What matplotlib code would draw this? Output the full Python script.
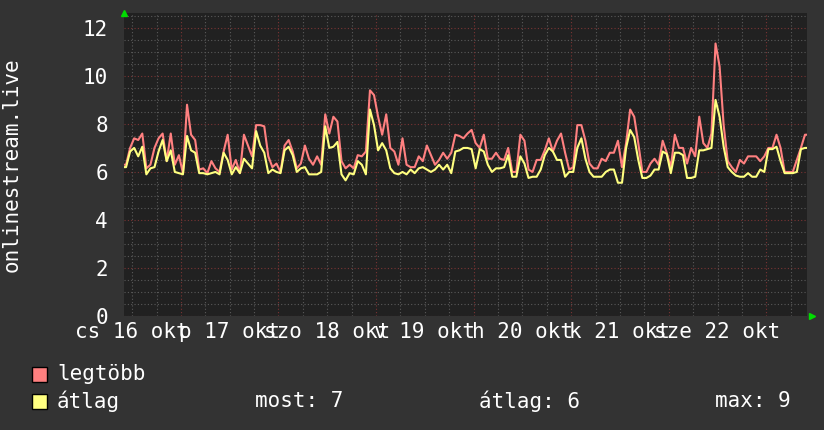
import matplotlib
matplotlib.use("Agg")
import matplotlib.pyplot as plt
from matplotlib.patches import Rectangle
import numpy as np

# ---- data (hourly samples, starting 16 Oct 10:00) ----
legtobb = [6.3, 7.0, 7.4, 7.33, 7.6, 6.15, 6.3, 7.0, 7.4, 7.6,
           6.45, 7.6, 6.3, 6.7, 5.95, 8.8, 7.55, 7.33, 6.1, 6.15,
           5.95, 6.45, 6.15, 6.0, 6.85, 7.55, 6.1, 6.5, 5.95, 7.55,
           7.1, 6.65, 7.95, 7.95, 7.9, 6.65, 6.2, 6.35, 6.0, 7.1,
           7.33, 6.85, 6.15, 6.35, 7.1, 6.55, 6.3, 6.65, 6.3, 8.4,
           7.6, 8.3, 8.1, 6.45, 6.15, 6.3, 6.15, 6.7, 6.65, 6.85,
           9.4, 9.2, 8.3, 7.55, 8.4, 7.0, 6.85, 6.3, 7.4, 6.3,
           6.2, 6.2, 6.65, 6.45, 7.1, 6.7, 6.3, 6.5, 6.8, 6.55,
           6.8, 7.55, 7.5, 7.4, 7.6, 7.75, 7.2, 7.0, 7.55, 6.55,
           6.55, 6.8, 6.55, 6.5, 7.0, 6.0, 6.0, 7.55, 7.3, 6.1,
           6.0, 6.5, 6.5, 6.9, 7.4, 6.85, 7.3, 7.6, 6.8, 6.1,
           6.2, 7.95, 7.95, 7.3, 6.35, 6.15, 6.15, 6.55, 6.45, 6.8,
           6.8, 7.3, 6.2, 7.2, 8.6, 8.3, 7.2, 6.0, 6.0, 6.35,
           6.55, 6.3, 7.3, 6.8, 6.2, 7.55, 7.0, 7.0, 6.35, 7.0,
           6.65, 8.3, 7.2, 7.0, 7.6, 11.35, 10.4, 7.95, 6.45, 6.2,
           6.0, 6.5, 6.35, 6.65, 6.65, 6.65, 6.45, 6.65, 7.0, 7.0,
           7.55, 7.0, 6.0, 6.0, 6.0, 6.5, 7.0, 7.55]
atlag = [6.2, 6.85, 7.0, 6.65, 7.05, 5.9, 6.15, 6.2, 6.85, 7.33,
         6.45, 6.9, 6.0, 5.95, 5.9, 7.5, 6.9, 6.8, 5.95, 5.95,
         5.9, 5.95, 6.0, 5.9, 6.8, 6.5, 5.9, 6.2, 5.95, 6.55,
         6.35, 6.15, 7.7, 7.1, 6.8, 5.95, 6.1, 6.0, 5.95, 6.9,
         7.05, 6.7, 6.0, 6.15, 6.2, 5.9, 5.9, 5.9, 6.0, 7.9,
         7.0, 7.05, 7.25, 5.9, 5.65, 5.95, 5.9, 6.45, 6.3, 5.9,
         8.6, 7.95, 6.9, 7.2, 6.9, 6.15, 5.95, 5.9, 6.0, 5.9,
         6.1, 5.95, 6.15, 6.2, 6.1, 6.0, 6.1, 6.3, 6.1, 6.3,
         5.95, 6.85, 6.9, 7.0, 7.0, 6.95, 6.15, 6.95, 6.85, 6.3,
         6.0, 6.15, 6.15, 6.2, 6.7, 5.8, 5.8, 6.65, 6.35, 5.75,
         5.8, 5.8, 6.1, 6.7, 7.0, 6.85, 6.5, 6.5, 5.8, 6.0,
         6.0, 7.0, 7.4, 6.55, 6.0, 5.8, 5.8, 5.8, 6.0, 6.1,
         6.1, 5.55, 5.55, 7.0, 7.75, 7.45, 6.5, 5.75, 5.75, 5.85,
         6.1, 6.1, 6.85, 6.75, 5.95, 6.8, 6.8, 6.7, 5.75, 5.75,
         5.8, 6.9, 6.9, 6.95, 7.0, 9.0, 8.3, 7.05, 6.2, 6.0,
         5.85, 5.8, 5.8, 5.95, 5.8, 5.8, 6.1, 6.0, 6.95, 6.95,
         7.05, 6.45, 5.95, 5.95, 5.95, 6.0, 6.95, 7.0]
day_labels = ["cs 16 okt", "p 17 okt", "szo 18 okt", "v 19 okt",
              "h 20 okt", "k 21 okt", "sze 22 okt"]
y_ticks = [0, 2, 4, 6, 8, 10, 12]
y_label = "onlinestream.live"
legend_names = ["legtöbb", "átlag"]
stats = ["most: 7", "átlag: 6", "max: 9"]

# ---- style ----
BG = "#333333"
CANVAS = "#212121"
C_MAX = "#ff8080"
C_AVG = "#ffff80"
GRID = "#5a5a5a"
MGRID = "#7a3434"
FONT = "DejaVu Sans Mono"
FS = 15

W, H = 824, 430
fig = plt.figure(figsize=(W / 100, H / 100), dpi=100, facecolor=BG)
L, R, B, T = 124, 807, 316, 13
ax = fig.add_axes([L / W, 1 - B / H, (R - L) / W, (B - T) / H])
ax.set_facecolor(CANVAS)

n = len(legtobb)
hours = np.concatenate([[0.0], np.arange(n) + 0.5, [float(n)]])
vmax = np.concatenate([[legtobb[0]], legtobb, [legtobb[-1]]])
vavg = np.concatenate([[atlag[0]], atlag, [atlag[-1]]])

ax.set_xlim(0, n)
ax.set_ylim(0, 12.62)

# grid
dot = (0, (1, 2))
for y in np.arange(0.5, 12.6, 0.5):
    major = abs(y / 2 - round(y / 2)) < 1e-9
    ax.axhline(y, color=MGRID if major else GRID, lw=0.8, ls=dot, zorder=1)
ax.axhline(0, color=MGRID, lw=0.8, ls=dot, zorder=1)
for x in np.arange(2, n, 6):
    major = (x - 14) % 24 == 0
    ax.axvline(x, color=MGRID if major else GRID, lw=0.8, ls=dot, zorder=1)

ax.plot(hours, vmax, color=C_MAX, lw=1.5, zorder=3)
ax.plot(hours, vavg, color=C_AVG, lw=1.5, zorder=4)

for s in ax.spines.values():
    s.set_visible(False)

ax.set_yticks(y_ticks)
ax.set_yticklabels([str(v) for v in y_ticks], fontfamily=FONT, fontsize=FS, color="white")
ax.set_xticks(np.arange(2, n, 24))
ax.set_xticklabels(day_labels, fontfamily=FONT, fontsize=FS, color="white")
ax.tick_params(axis="y", length=0, pad=11.5)
ax.tick_params(axis="x", length=0, pad=4)

# arrows
ax.plot([0], [1.0], marker="^", color="#00dd00", ms=5, transform=ax.transAxes,
        clip_on=False, zorder=6)
ax.plot([1.0 + 5 / (R - L)], [0], marker=">", color="#00dd00", ms=5,
        transform=ax.transAxes, clip_on=False, zorder=6)

fig.text(12 / W, 1 - 164.5 / H, y_label, rotation=90, ha="center", va="center",
         fontfamily=FONT, fontsize=FS, color="white")

# legend
rows_y = [374, 401]
cols = [C_MAX, C_AVG]
for name, col, ry in zip(legend_names, cols, rows_y):
    fig.add_artist(Rectangle((32 / W, 1 - (ry + 7.5) / H), 15 / W, 15 / H,
                             transform=fig.transFigure, facecolor=col,
                             edgecolor="black", lw=1))
    fig.text(57 / W, 1 - ry / H, name, ha="left", va="center",
             fontfamily=FONT, fontsize=FS, color="white")
for s, sx in zip(stats, [255, 479, 715]):
    fig.text(sx / W, 1 - rows_y[1] / H, s, ha="left", va="center",
             fontfamily=FONT, fontsize=FS, color="white")

fig.savefig("out.png", dpi=100, facecolor=BG)
